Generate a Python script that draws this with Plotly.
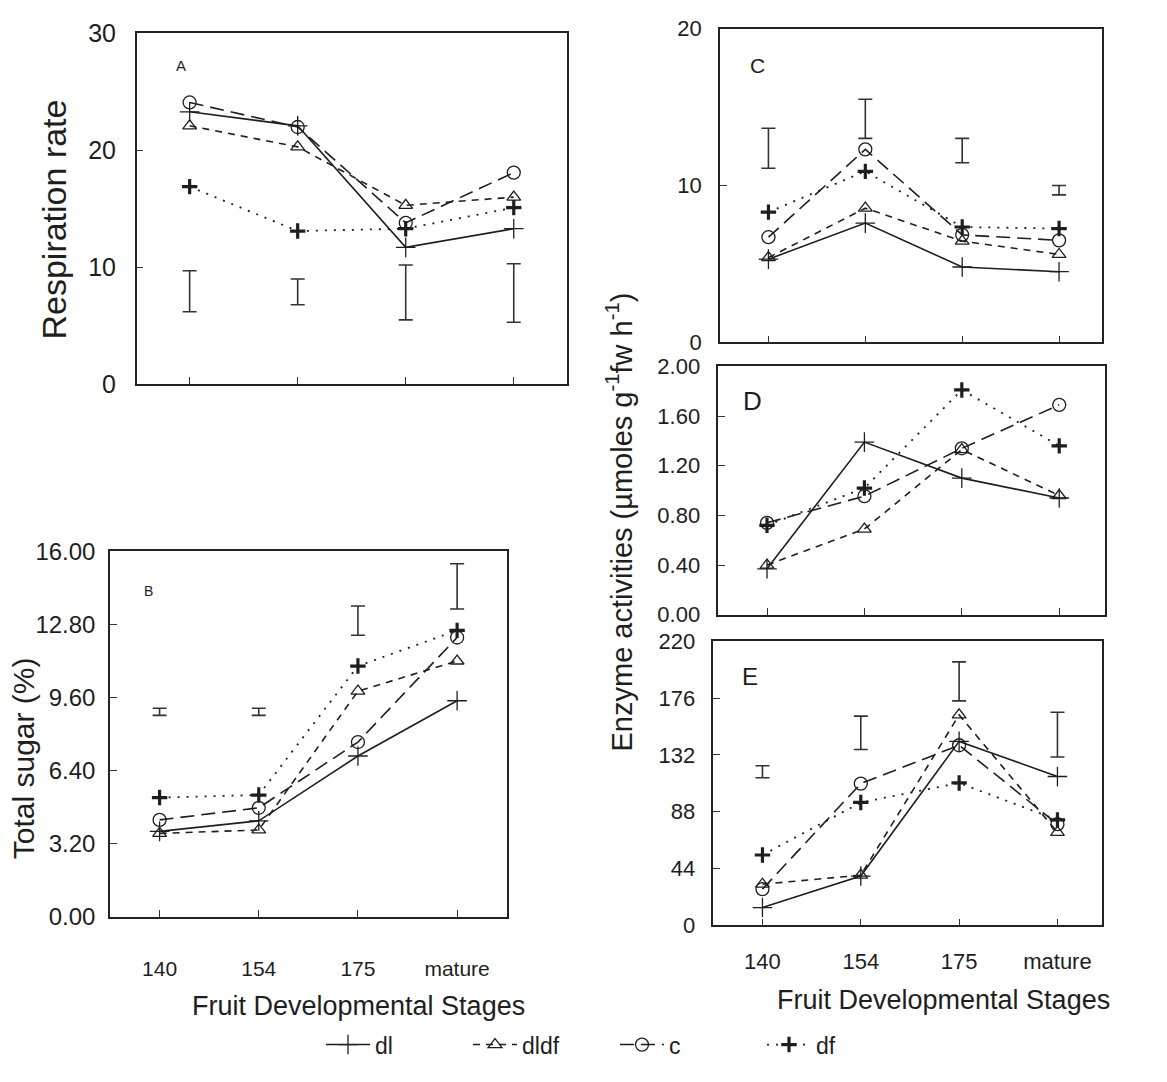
import plotly.graph_objects as go

stages = ["140", "154", "175", "mature"]
xi = [0, 1, 2, 3]
series_names = ["dl", "dldf", "c", "df"]

# Panel A: Respiration rate
A_dl = [23.3, 22.1, 11.7, 13.3]
A_dldf = [22.1, 20.3, 15.3, 16.0]
A_c = [24.1, 22.0, 13.8, 18.1]
A_df = [16.9, 13.1, 13.3, 15.1]
A_err_low = [6.2, 6.8, 5.5, 5.3]
A_err_high = [9.7, 9.0, 10.2, 10.3]

# Panel B: Total sugar (%)
B_dl = [3.74, 4.2, 7.04, 9.46]
B_dldf = [3.65, 3.8, 9.88, 11.2]
B_c = [4.24, 4.77, 7.65, 12.23]
B_df = [5.22, 5.33, 10.98, 12.54]
B_err_low = [8.82, 8.82, 12.33, 13.48]
B_err_high = [9.13, 9.13, 13.61, 15.46]

# Panel C
C_dl = [5.3, 7.6, 4.8, 4.5]
C_dldf = [5.4, 8.55, 6.45, 5.6]
C_c = [6.7, 12.3, 6.85, 6.5]
C_df = [8.3, 10.9, 7.35, 7.25]
C_err_low = [11.1, 13.0, 11.45, 9.4]
C_err_high = [13.65, 15.5, 13.0, 10.0]

# Panel D
D_dl = [0.37, 1.39, 1.10, 0.94]
D_dldf = [0.40, 0.69, 1.33, 0.96]
D_c = [0.74, 0.955, 1.34, 1.69]
D_df = [0.72, 1.02, 1.81, 1.36]

# Panel E
E_dl = [13.8, 38.2, 142.5, 115.3]
E_dldf = [31.9, 38.9, 163.0, 72.1]
E_c = [28.1, 109.8, 139.5, 78.4]
E_df = [54.5, 95.2, 110.3, 81.7]
E_err_low = [114.3, 136.2, 173.9, 130.4]
E_err_high = [123.6, 162.1, 204.1, 165.1]

FONT = "Liberation Sans, Arial, sans-serif"
INK = "#1e1e1e"

styles = {
    "dl": dict(line=dict(color=INK, width=1.6, dash="solid"),
               marker=dict(symbol="cross-thin-open", size=14, color=INK, line=dict(color=INK, width=1.3))),
    "dldf": dict(line=dict(color=INK, width=1.6, dash="7px,6px"),
                 marker=dict(symbol="triangle-up-open", size=12, color=INK, line=dict(color=INK, width=1.3))),
    "c": dict(line=dict(color=INK, width=1.6, dash="14px,7px"),
              marker=dict(symbol="circle-open", size=13, color=INK, line=dict(color=INK, width=1.3))),
    "df": dict(line=dict(color=INK, width=1.8, dash="2px,7px"),
               marker=dict(symbol="cross-thin-open", size=11, color=INK, line=dict(color=INK, width=3.2))),
}

panels = [
    ("", {"dl": A_dl, "dldf": A_dldf, "c": A_c, "df": A_df}, A_err_low, A_err_high),
    ("2", {"dl": B_dl, "dldf": B_dldf, "c": B_c, "df": B_df}, B_err_low, B_err_high),
    ("3", {"dl": C_dl, "dldf": C_dldf, "c": C_c, "df": C_df}, C_err_low, C_err_high),
    ("4", {"dl": D_dl, "dldf": D_dldf, "c": D_c, "df": D_df}, None, None),
    ("5", {"dl": E_dl, "dldf": E_dldf, "c": E_c, "df": E_df}, E_err_low, E_err_high),
]

fig = go.Figure()
for pi, (suf, data, lo, hi) in enumerate(panels):
    for name in series_names:
        st = styles[name]
        fig.add_trace(go.Scatter(
            x=xi, y=data[name], mode="lines+markers", name=name,
            line=st["line"], marker=st["marker"],
            xaxis="x" + suf, yaxis="y" + suf,
            showlegend=(pi == 0), legendrank=series_names.index(name),
            hoverinfo="skip"))
    if lo is not None:
        mid = [(a + b) / 2 for a, b in zip(lo, hi)]
        up = [b - m for b, m in zip(hi, mid)]
        dn = [m - a for a, m in zip(lo, mid)]
        fig.add_trace(go.Scatter(
            x=xi, y=mid, mode="markers",
            marker=dict(size=1, color="rgba(0,0,0,0)"),
            error_y=dict(type="data", symmetric=False, array=up, arrayminus=dn,
                         color="#333", thickness=1.6, width=7),
            xaxis="x" + suf, yaxis="y" + suf, showlegend=False, hoverinfo="skip"))

W, H = 1167, 1082
def px_x(a, b):
    return [a / W, b / W]
def px_y(top, bot):
    return [1 - bot / H, 1 - top / H]

axis_common = dict(showline=True, linecolor="#222", linewidth=1.5, mirror=True,
                   showgrid=False, zeroline=False, ticks="inside", ticklen=7,
                   tickcolor="#333", tickwidth=1.3)

def xax(dom, rng, anchor, labels, size=20, standoff=10):
    d = dict(axis_common)
    d.update(domain=dom, range=rng, anchor=anchor, tickmode="array", tickvals=xi,
             ticktext=stages if labels else [""] * 4, showticklabels=labels,
             tickfont=dict(family=FONT, size=size, color=INK), ticklabelstandoff=standoff)
    return d

def yax(dom, rng, anchor, vals, fmt, size=22, standoff=10):
    d = dict(axis_common)
    d.update(domain=dom, range=rng, anchor=anchor, tickmode="array", tickvals=vals,
             ticktext=[fmt.format(v) for v in vals],
             tickfont=dict(family=FONT, size=size, color=INK), ticklabelstandoff=standoff)
    return d

A_ticks = [0, 10, 20, 30]
B_ticks = [0, 3.2, 6.4, 9.6, 12.8, 16.0]
C_ticks = [0, 10, 20]
D_ticks = [0, 0.4, 0.8, 1.2, 1.6, 2.0]
E_ticks = [0, 44, 88, 132, 176, 220]

fig.update_layout(
    width=W, height=H, margin=dict(l=0, r=0, t=0, b=0),
    plot_bgcolor="white", paper_bgcolor="white",
    font=dict(family=FONT, color=INK),
    xaxis=xax(px_x(136.7, 566.7), [-0.49, 3.49], "y", False),
    yaxis=yax(px_y(20, 380), [0, 30], "x", A_ticks, "{:.0f}", size=25, standoff=14),
    xaxis2=xax(px_x(110, 506.7), [-0.5, 3.5], "y2", True, size=21, standoff=32),
    yaxis2=yax(px_y(551.7, 926.7), [0, 16], "x2", B_ticks, "{:.2f}", size=24, standoff=8),
    xaxis3=xax(px_x(720, 1101.7), [-0.5, 3.44], "y3", False),
    yaxis3=yax(px_y(15, 337), [0, 20], "x3", C_ticks, "{:.0f}", size=22, standoff=12),
    xaxis4=xax(px_x(718.3, 1105), [-0.5, 3.47], "y4", False),
    yaxis4=yax(px_y(361.7, 616.7), [0, 2], "x4", D_ticks, "{:.2f}", size=22, standoff=12),
    xaxis5=xax(px_x(713.3, 1101.7), [-0.5, 3.45], "y5", True, size=22, standoff=15),
    yaxis5=yax(px_y(644, 935.6), [0, 220], "x5", E_ticks, "{:.0f}", size=22, standoff=12),
    legend=dict(orientation="h", x=0.527, xanchor="center", y=1 - 1058 / H, yanchor="middle",
                font=dict(family=FONT, size=23, color=INK), bgcolor="rgba(0,0,0,0)",
                entrywidth=88, entrywidthmode="pixels", itemwidth=44, tracegroupgap=0),
)

def ann(text, x, y, size, angle=0):
    fig.add_annotation(text=text, x=x / W, y=1 - y / H, xref="paper", yref="paper",
                       showarrow=False, textangle=angle,
                       font=dict(family=FONT, size=size, color=INK),
                       xanchor="center", yanchor="middle")

ann("A", 181, 53, 15)
ann("B", 148, 592, 14)
ann("C", 757, 53, 21)
ann("D", 752, 397, 26)
ann("E", 750, 680, 24)

ann("Respiration rate", 54, 211, 34, -90)
ann("Total sugar (%)", 23, 764, 30, -90)
ann("Enzyme activities (µmoles g<sup>-1</sup>fw h<sup>-1</sup>)", 620, 522, 29, -90)
ann("Fruit Developmental Stages", 358, 1018, 27)
ann("Fruit Developmental Stages", 943, 1012, 27)

fig.write_html("out.html")
